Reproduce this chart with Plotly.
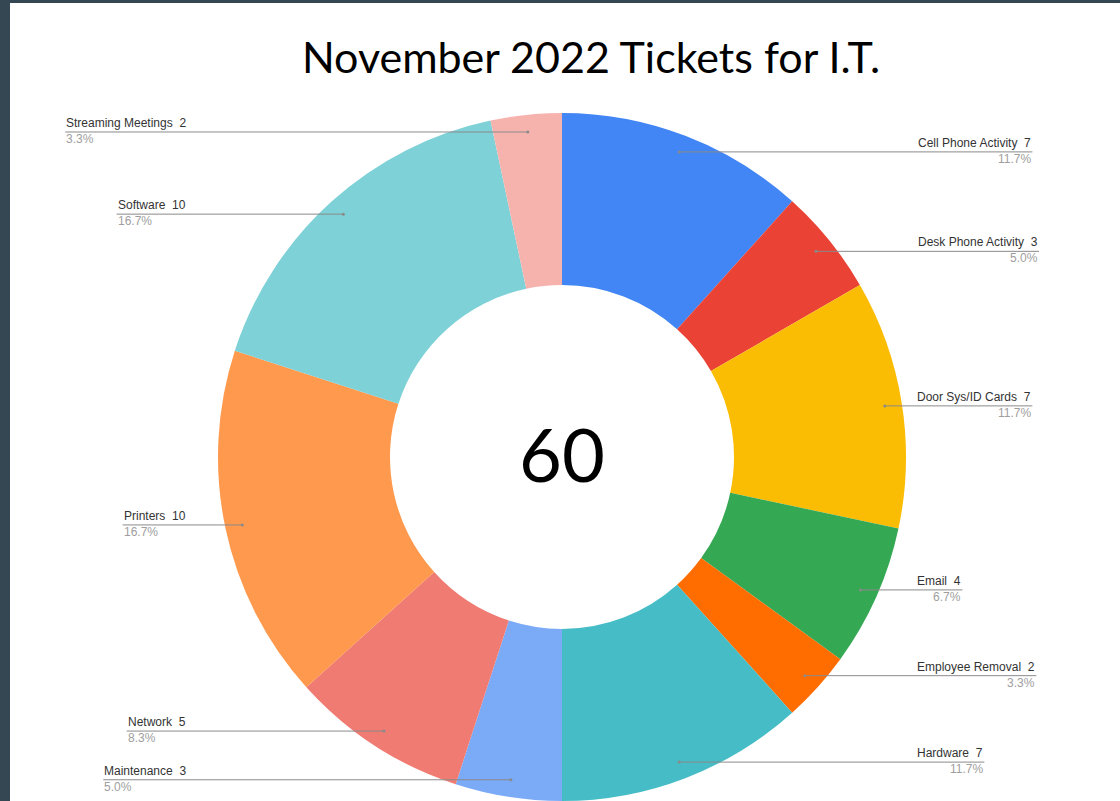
import math
import plotly.graph_objects as go

# ---- data ----
categories = ["Cell Phone Activity", "Desk Phone Activity", "Door Sys/ID Cards", "Email",
              "Employee Removal", "Hardware", "Maintenance", "Network", "Printers",
              "Software", "Streaming Meetings"]
tickets = [7, 3, 7, 4, 2, 7, 3, 5, 10, 10, 2]
colors = ["#4285f4", "#ea4335", "#fbbc04", "#34a853", "#ff6d01", "#46bdc6",
          "#7baaf7", "#f07b72", "#ff994d", "#7ed1d7", "#f6b3ae"]
title_text = "November 2022 Tickets for I.T."

# ---- layout constants ----
W, H = 1120, 801
CX, CY, R = 562, 457, 344          # donut centre / radius in pixels
LBL_FONT = 12
RIGHT_TEXT_LEFT = 919               # right-side labels start here
LEFT_TEXT_RIGHT = 184               # left-side labels end here

# Arial / Liberation Sans advance widths (per 1000 em)
AW = {' ': 278, '\u00a0': 278, '.': 278, '/': 278, '%': 889,
      'A': 667, 'C': 722, 'D': 722, 'E': 667, 'H': 722, 'I': 278, 'M': 722, 'N': 722,
      'P': 667, 'R': 722, 'S': 667, 'a': 556, 'b': 556, 'c': 500, 'd': 556, 'e': 556,
      'f': 278, 'g': 556, 'h': 556, 'i': 222, 'k': 500, 'l': 222, 'm': 833, 'n': 556,
      'o': 556, 'p': 556, 'r': 333, 's': 500, 't': 278, 'u': 556, 'v': 500, 'w': 722,
      'y': 500}


def text_w(s):
    return sum(AW.get(ch, 556) for ch in s) * LBL_FONT / 1000.0


def px(x):
    return x / W


def py(y):
    return 1 - y / H


total = sum(tickets)

fig = go.Figure()
fig.add_trace(go.Pie(
    labels=categories, values=tickets, hole=0.5, sort=False, direction="clockwise",
    rotation=0, marker=dict(colors=colors, line=dict(width=0)), textinfo="none",
    hoverinfo="label+value+percent", showlegend=False,
    domain=dict(x=[px(CX - R), px(CX + R)], y=[py(CY + R), py(CY - R)]),
))

shapes = [
    dict(type="rect", xref="paper", yref="paper", x0=0, x1=px(10), y0=0, y1=1,
         fillcolor="#354752", line=dict(width=0), layer="below"),
    dict(type="rect", xref="paper", yref="paper", x0=0, x1=1, y0=py(3), y1=1,
         fillcolor="#354752", line=dict(width=0), layer="below"),
]
annotations = []

cum = 0
for name, v in zip(categories, tickets):
    mid = (cum + v / 2) / total * 2 * math.pi
    cum += v
    dx, dy = math.sin(mid), math.cos(mid)
    x_dot = CX + 0.95 * R * dx
    y_dot = CY - 0.95 * R * dy
    label = f"{name}\u00a0\u00a0{v}"
    pct = f"{v / total * 100:.1f}%"
    w = text_w(label)
    if dx > 0:
        x_end = RIGHT_TEXT_LEFT + w
        x0, x1 = x_dot, x_end
        anchor_x, xanchor = x_end, "right"
    else:
        x_start = LEFT_TEXT_RIGHT - w
        x0, x1 = x_start, x_dot
        anchor_x, xanchor = x_start, "left"
    shapes.append(dict(type="line", xref="paper", yref="paper",
                       x0=px(x0), x1=px(x1), y0=py(y_dot), y1=py(y_dot),
                       line=dict(color="#8a8a8a", width=1)))
    shapes.append(dict(type="circle", xref="paper", yref="paper",
                       x0=px(x_dot - 1.5), x1=px(x_dot + 1.5),
                       y0=py(y_dot + 1.5), y1=py(y_dot - 1.5),
                       fillcolor="#8a8a8a", line=dict(width=0)))
    annotations.append(dict(xref="paper", yref="paper", x=px(anchor_x), y=py(y_dot),
                            xanchor=xanchor, yanchor="bottom", text=label, showarrow=False,
                            font=dict(family="Liberation Sans, Arial", size=LBL_FONT, color="#333333"),
                            borderpad=0, yshift=1))
    annotations.append(dict(xref="paper", yref="paper", x=px(anchor_x), y=py(y_dot),
                            xanchor=xanchor, yanchor="top", text=pct, showarrow=False,
                            font=dict(family="Liberation Sans, Arial", size=LBL_FONT, color="#9e9e9e"),
                            borderpad=0, yshift=1))

annotations.append(dict(xref="paper", yref="paper", x=px(CX), y=py(CY), xanchor="center",
                        yanchor="middle", text=str(total), showarrow=False, yshift=3,
                        font=dict(family="Lato, Open Sans, sans-serif", size=74, color="#000000")))

fig.update_layout(
    width=W, height=H, margin=dict(l=0, r=0, t=0, b=0),
    paper_bgcolor="#ffffff",
    title=dict(text=title_text, x=px(591), xanchor="center", y=py(58), yanchor="middle",
               font=dict(family="Lato, Open Sans, sans-serif", size=43, color="#000000")),
    shapes=shapes, annotations=annotations,
)

fig.write_html("out.html", config={"displayModeBar": False},
               post_script="document.body.style.margin='0';document.body.style.overflow='hidden';")
